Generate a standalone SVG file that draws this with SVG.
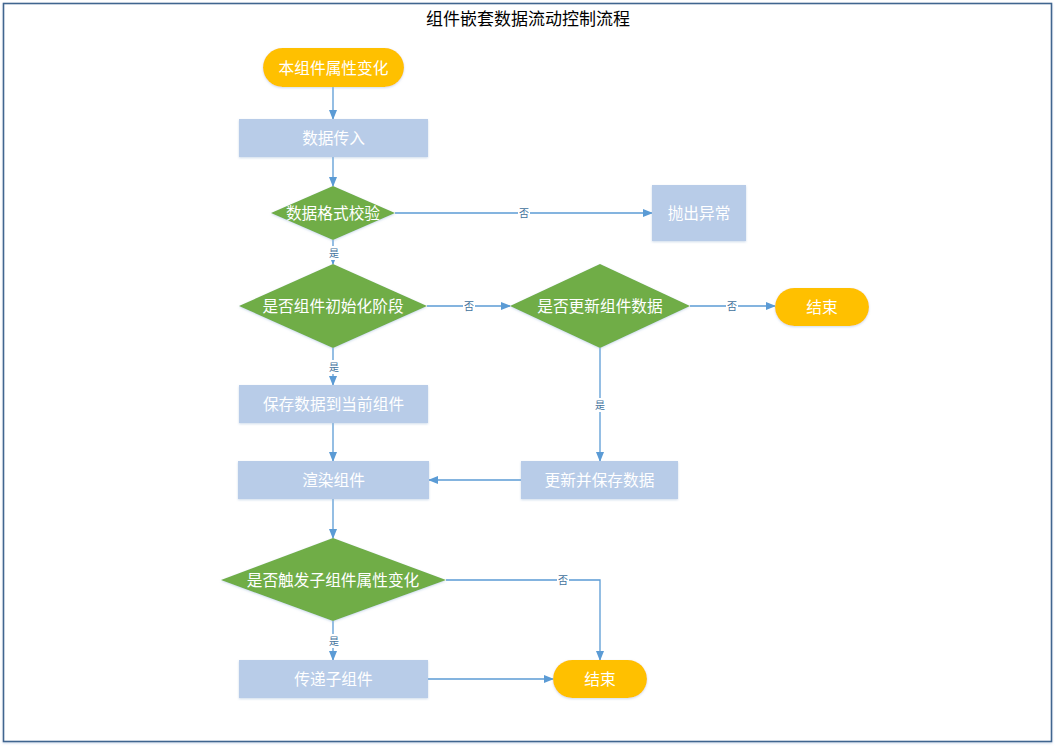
<svg xmlns="http://www.w3.org/2000/svg" width="1057" height="750" viewBox="0 0 1057 750">
<defs>
<marker id="ah" markerWidth="10" markerHeight="8" refX="9" refY="4" orient="auto" markerUnits="userSpaceOnUse">
<path d="M0,0 L10,4 L0,8 Z" fill="#5B9BD5"/>
</marker>
<filter id="sh" x="-10%" y="-10%" width="120%" height="130%">
<feDropShadow dx="0" dy="1" stdDeviation="1.2" flood-color="#9DB7D8" flood-opacity="0.5"/>
</filter>
</defs>
<style>
.t{font-family:"Microsoft YaHei","Noto Sans CJK SC",sans-serif;font-size:15.7px;fill:#FFFFFF;text-anchor:middle;dominant-baseline:central}
.term{fill:#FFC000;filter:url(#sh)}
.box{fill:#B8CCE8;filter:url(#sh)}
.dia{fill:#70AD47;filter:url(#sh)}
.c{stroke:#5B9BD5;stroke-width:1.3;fill:none;marker-end:url(#ah)}
.lb{font-family:"Noto Sans CJK SC",sans-serif;font-size:10px;fill:#41719C;text-anchor:middle;dominant-baseline:central}
.lbg{fill:#FFFFFF}
</style>
<rect x="0" y="0" width="1057" height="750" fill="#FFFFFF"/>
<rect x="3.5" y="3.5" width="1048" height="738" fill="#FFFFFF" stroke="#41658F" stroke-width="1.6" filter="url(#sh)"/>
<text x="528" y="17.5" font-family="Microsoft YaHei,'Noto Sans CJK SC',sans-serif" font-size="17" fill="#000000" text-anchor="middle" dominant-baseline="central">组件嵌套数据流动控制流程</text>

<g id="connectors">
<path class="c" d="M333,87 L333,119"/>
<path class="c" d="M333,157 L333,186"/>
<path class="c" d="M395,213 L652,213"/>
<path class="c" d="M333,240 L333,264"/>
<path class="c" d="M427,306 L510,306"/>
<path class="c" d="M690,306 L775,306"/>
<path class="c" d="M333,348 L333,385"/>
<path class="c" d="M333,423 L333,461"/>
<path class="c" d="M600,348 L600,461"/>
<path class="c" d="M521,480 L429,480"/>
<path class="c" d="M333,499 L333,538"/>
<path class="c" d="M446,580 L600,580 L600,660"/>
<path class="c" d="M333,621 L333,660"/>
<path class="c" d="M428,679 L553,679"/>
<rect class="lbg" x="518" y="206" width="12" height="14"/><text class="lb" x="524" y="212.5">否</text>
<rect class="lbg" x="327" y="246" width="12" height="14"/><text class="lb" x="334" y="252.5">是</text>
<rect class="lbg" x="463" y="299" width="12" height="14"/><text class="lb" x="469" y="305.5">否</text>
<rect class="lbg" x="726" y="299" width="12" height="14"/><text class="lb" x="732" y="305.5">否</text>
<rect class="lbg" x="328" y="360" width="12" height="14"/><text class="lb" x="334" y="366.5">是</text>
<rect class="lbg" x="594" y="398" width="12" height="14"/><text class="lb" x="600" y="404.5">是</text>
<rect class="lbg" x="557" y="573" width="12" height="14"/><text class="lb" x="563" y="579.5">否</text>
<rect class="lbg" x="328" y="634" width="12" height="14"/><text class="lb" x="334" y="640.5">是</text>
</g>

<g id="start"><rect class="term" x="263" y="48" width="141" height="39" rx="19.5"/><text class="t" x="333.5" y="67">本组件属性变化</text></g>
<g id="input"><rect class="box" x="239" y="119" width="189" height="38"/><text class="t" x="333.5" y="137">数据传入</text></g>
<g id="check"><polygon class="dia" points="333,186 395,213 333,240 271,213"/><text class="t" x="333" y="212">数据格式校验</text></g>
<g id="throw"><rect class="box" x="652" y="185" width="94" height="56"/><text class="t" x="699" y="212">抛出异常</text></g>
<g id="initphase"><polygon class="dia" points="333,264 427,306 333,348 239,306"/><text class="t" x="333" y="305">是否组件初始化阶段</text></g>
<g id="update"><polygon class="dia" points="600,264 690,306 600,348 510,306"/><text class="t" x="600" y="305">是否更新组件数据</text></g>
<g id="end1"><rect class="term" x="775" y="288" width="94" height="38" rx="19"/><text class="t" x="822" y="306">结束</text></g>
<g id="save"><rect class="box" x="239" y="385" width="189" height="38"/><text class="t" x="333.5" y="403">保存数据到当前组件</text></g>
<g id="render"><rect class="box" x="238" y="461" width="191" height="38"/><text class="t" x="333.5" y="479">渲染组件</text></g>
<g id="updsave"><rect class="box" x="521" y="461" width="157" height="38"/><text class="t" x="599.5" y="479">更新并保存数据</text></g>
<g id="trigger"><polygon class="dia" points="333,538 446,580 333,621 221,580"/><text class="t" x="333" y="579">是否触发子组件属性变化</text></g>
<g id="pass"><rect class="box" x="239" y="660" width="189" height="38"/><text class="t" x="333.5" y="678">传递子组件</text></g>
<g id="end2"><rect class="term" x="553" y="660" width="94" height="38" rx="19"/><text class="t" x="600" y="678">结束</text></g>
</svg>
